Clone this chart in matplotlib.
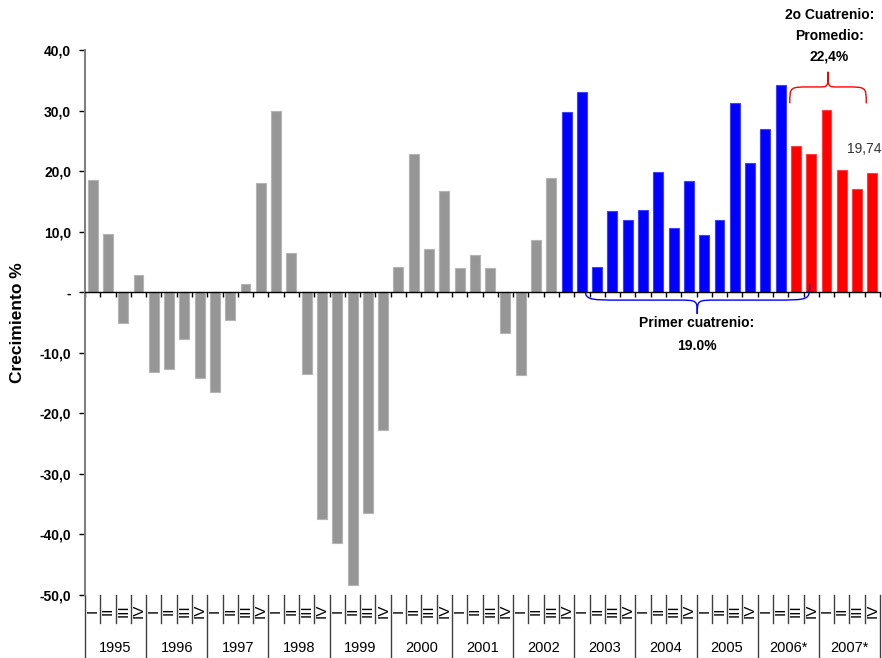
import numpy as np
import matplotlib.pyplot as plt
from matplotlib.path import Path
from matplotlib.patches import PathPatch

# crecimiento trimestral (%), 1995-I a 2007-IV
years = ["1995", "1996", "1997", "1998", "1999", "2000", "2001",
         "2002", "2003", "2004", "2005", "2006*", "2007*"]
quarters = ["I", "II", "III", "IV"]

# 1995-I a 2002-III
gris = [18.6, 9.6, -5.1, 2.8,
        -13.1, -12.6, -7.7, -14.2,
        -16.4, -4.6, 1.3, 18.1,
        30.0, 6.4, -13.5, -37.4,
        -41.4, -48.3, -36.5, -22.7,
        4.2, 22.8, 7.2, 16.7,
        4.0, 6.2, 4.0, -6.7,
        -13.7, 8.6, 18.8]
# primer cuatrenio: 2002-IV a 2006-II
primer = [29.7, 33.0, 4.2, 13.4, 12.0, 13.6, 19.9, 10.6,
          18.4, 9.5, 12.0, 31.2, 21.4, 27.0, 34.2]
# segundo cuatrenio: 2006-III a 2007-IV
segundo = [24.1, 22.9, 30.1, 20.2, 17.1, 19.74]

y_ticks = [40, 30, 20, 10, 0, -10, -20, -30, -40, -50]
y_tick_labels = ["40,0", "30,0", "20,0", "10,0", "-", "-10,0",
                 "-20,0", "-30,0", "-40,0", "-50,0"]

plt.rcParams["font.family"] = ["Liberation Sans", "DejaVu Sans"]


def llave(ax, x0, x1, y_end, y_mid, y_tip, d_end, d_mid, color):
    # curly brace between x0 and x1, tip in the middle
    xc = (x0 + x1) / 2
    verts = [
        (x0, y_end), (x0, y_mid), (x0, y_mid), (x0 + d_end, y_mid),
        (xc - d_mid, y_mid),
        (xc, y_mid), (xc, y_mid), (xc, y_tip),
        (xc, y_mid), (xc, y_mid), (xc + d_mid, y_mid),
        (x1 - d_end, y_mid),
        (x1, y_mid), (x1, y_mid), (x1, y_end),
    ]
    codes = [Path.MOVETO, Path.CURVE4, Path.CURVE4, Path.CURVE4,
             Path.LINETO,
             Path.CURVE4, Path.CURVE4, Path.CURVE4,
             Path.CURVE4, Path.CURVE4, Path.CURVE4,
             Path.LINETO,
             Path.CURVE4, Path.CURVE4, Path.CURVE4]
    patch = PathPatch(Path(verts, codes), facecolor="none", edgecolor=color,
                      lw=1.0, clip_on=False, zorder=4)
    ax.add_patch(patch)


valores = gris + primer + segundo
colores = (["#969696"] * len(gris) + ["#0000ff"] * len(primer)
           + ["#ff0000"] * len(segundo))
bordes = (["#b4b4b4"] * len(gris) + ["#4040ff"] * len(primer)
          + ["#ff4040"] * len(segundo))
x = np.arange(len(valores)) + 0.5

fig = plt.figure(figsize=(8.82, 6.58), dpi=100)
ax = fig.add_axes([85 / 882, 1 - 595 / 658, 795 / 882, 545 / 658])

ax.bar(x, valores, width=0.65, color=colores, edgecolor=bordes,
       linewidth=0.8, zorder=2)

ax.set_xlim(0, len(valores))
ax.set_ylim(-50, 40)

# -----------------------------
# Axes
# -----------------------------
for s in ["top", "right"]:
    ax.spines[s].set_visible(False)
ax.spines["bottom"].set_position(("data", 0))
ax.spines["bottom"].set_color("black")
ax.spines["bottom"].set_linewidth(1.0)
ax.spines["bottom"].set_zorder(3)
ax.spines["left"].set_color("#808080")
ax.spines["left"].set_linewidth(1.5)

ax.set_xticks(np.arange(0, len(valores) + 1))
ax.set_xticklabels([])
ax.tick_params(axis="x", direction="out", length=3.5, width=1, color="black")

ax.set_yticks(y_ticks)
ax.set_yticklabels(y_tick_labels)
ax.tick_params(axis="y", direction="out", length=4, width=1, color="black",
               labelsize=10, pad=6)
for lab in ax.get_yticklabels():
    lab.set_fontweight("bold")

fig.text(18 / 882, 1 - 323 / 658, "Crecimiento %", rotation=90,
         ha="center", va="center", fontsize=12.5, fontweight="bold")

# -----------------------------
# Category labels (quarters / years)
# -----------------------------
trans = ax.get_xaxis_transform()
for i in range(len(valores)):
    ax.text(x[i], -0.029, quarters[i % 4], rotation=90, ha="center",
            va="center", fontsize=11, transform=trans)
for k in range(len(valores) + 1):
    bottom = -0.12 if k % 4 == 0 else -0.051
    ax.plot([k, k], [0, bottom], transform=trans, clip_on=False,
            color="#404040", lw=1)
for j, yr in enumerate(years):
    ax.text(4 * j + 2, -0.097, yr, ha="center", va="center",
            fontsize=10.5, transform=trans)

# -----------------------------
# Annotations
# -----------------------------
llave(ax, 32.7, 47.4, 1.3, -1.3, -3.6, 2.4, 1.3, "#0000ff")
llave(ax, 46.1, 51.1, 31.2, 33.9, 36.4, 1.3, 0.6, "#ff0000")

ax.text(40.0, -7.0, "Primer cuatrenio:\n19.0%", ha="center", va="center",
        fontsize=10, fontweight="bold", linespacing=1.85)
ax.text(48.7, 42.3, "2o Cuatrenio:\nPromedio:\n22,4%", ha="center",
        va="center", fontsize=10, fontweight="bold", linespacing=1.6)

ax.annotate("19,74", (x[-1], segundo[-1]), xytext=(-6, 12),
            textcoords="offset points", ha="center", va="bottom",
            fontsize=10, color="#333333")

fig.savefig("out.png", dpi=100)
